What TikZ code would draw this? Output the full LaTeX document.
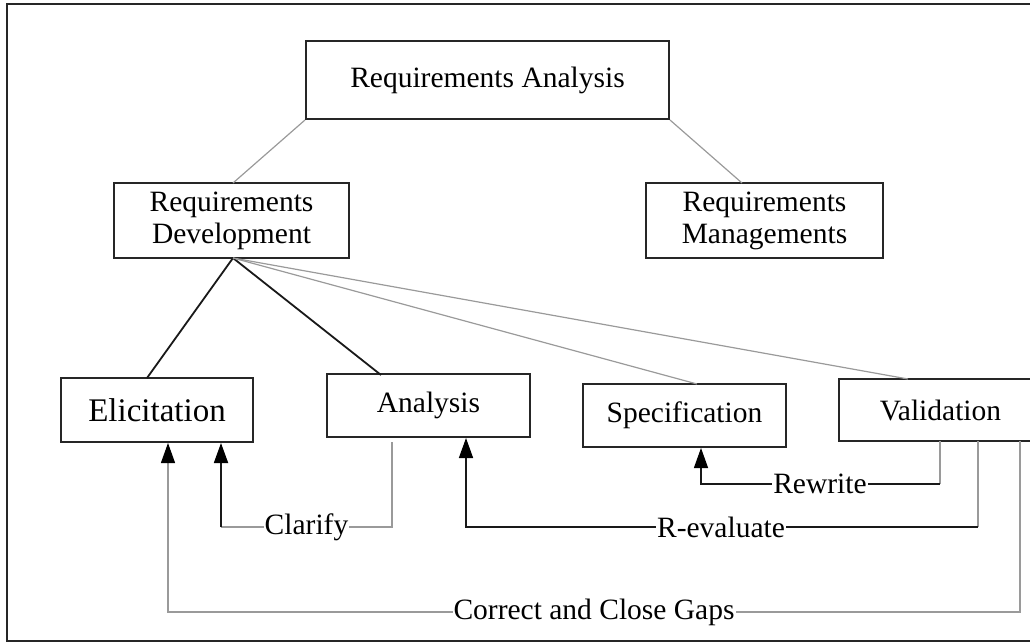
\documentclass[tikz,border=0pt]{standalone}
\usepackage{fontspec}
\setmainfont{Liberation Serif}
\usetikzlibrary{arrows.meta,calc}
\definecolor{thin}{HTML}{9A9A9A}
\begin{document}
\begin{tikzpicture}[x=1pt,y=-1pt,
  box/.style={draw=black!85,line width=2pt,inner sep=0pt,align=center,
    font=\fontsize{29.5}{32}\selectfont},
  blackline/.style={draw=black!90,line width=1.8pt},
  grayline/.style={draw=thin,line width=1.2pt},
  tip/.style={-{Triangle[length=20pt,width=14pt,color=black,fill=black]}},
  lbl/.style={fill=white,inner sep=1pt,font=\fontsize{29.5}{32}\selectfont}]
\useasboundingbox (0,0) rectangle (1030,642);
% outer frame
\draw[line width=2pt,draw=black!85] (7,4) rectangle (1060,641);

% boxes
\node[box,minimum width=363pt,minimum height=78pt] (top) at (487.5,80) {Requirements Analysis};
\node[box,minimum width=235pt,minimum height=75pt] (dev) at (231.5,220.5) {Requirements\\Development};
\node[box,minimum width=237pt,minimum height=75pt] (mgmt) at (764.5,220.5) {Requirements\\Managements};
\node[box,minimum width=192pt,minimum height=64pt,font=\fontsize{33}{36}\selectfont] (elic) at (157,410) {Elicitation};
\node[box,minimum width=203pt,minimum height=63pt] (anal) at (428.5,405.5) {Analysis};
\node[box,minimum width=203pt,minimum height=63pt] (spec) at (684.5,415.5) {Specification};
\node[box,minimum width=203pt,minimum height=62pt] (val) at (940.5,410) {Validation};

% hierarchy links
\coordinate (devtop1) at (233,183);
\coordinate (mgtop1) at (742,183);
\draw[grayline] (top.south west) -- (devtop1);
\draw[grayline] (top.south east) -- (mgtop1);
\coordinate (devfoot) at (233,258);
\draw[blackline] (devfoot) -- (147,378);
\draw[blackline] (devfoot) -- (381,375);
\draw[grayline] (devfoot) -- (697,384);
\draw[grayline] (devfoot) -- (908,379);

% Clarify: Analysis back to Elicitation
\coordinate (cA) at (392,442);
\coordinate (cB) at (392,527);
\coordinate (cC) at (221,527);
\draw[grayline] (cA) -- (cB) -- (cC);
\draw[blackline,tip] (cC) -- (cC |- elic.south);
\node[lbl] (clarify) at (306.5,527) {Clarify};

% Rewrite: Validation back to Specification
\coordinate (wA) at (940,441);
\coordinate (wB) at (940,484);
\coordinate (wC) at (701,484);
\draw[grayline] (wA) -- (wB);
\draw[blackline,line width=1.4pt,tip] (wB) -- (wC) -- (wC |- spec.south);
\node[lbl] (rewrite) at (820,484) {Rewrite};

% R-evaluate: Validation back to Analysis
\coordinate (rA) at (978,441);
\coordinate (rB) at (978,527);
\coordinate (rC) at (466,527);
\draw[grayline] (rA) -- (rB);
\draw[blackline,line width=1.5pt,tip] (rB) -- (rC) -- (rC |- anal.south);
\node[lbl] (reval) at (721,527) {R-evaluate};

% Correct and Close Gaps: Validation back to Elicitation
\coordinate (gA) at (1020,441);
\coordinate (gB) at (1020,612);
\coordinate (gC) at (168,612);
\draw[grayline,tip] (gA) -- (gB) -- (gC) -- (gC |- elic.south);
\node[lbl] (gaps) at (594,612) {Correct and Close Gaps};
\end{tikzpicture}
\end{document}
